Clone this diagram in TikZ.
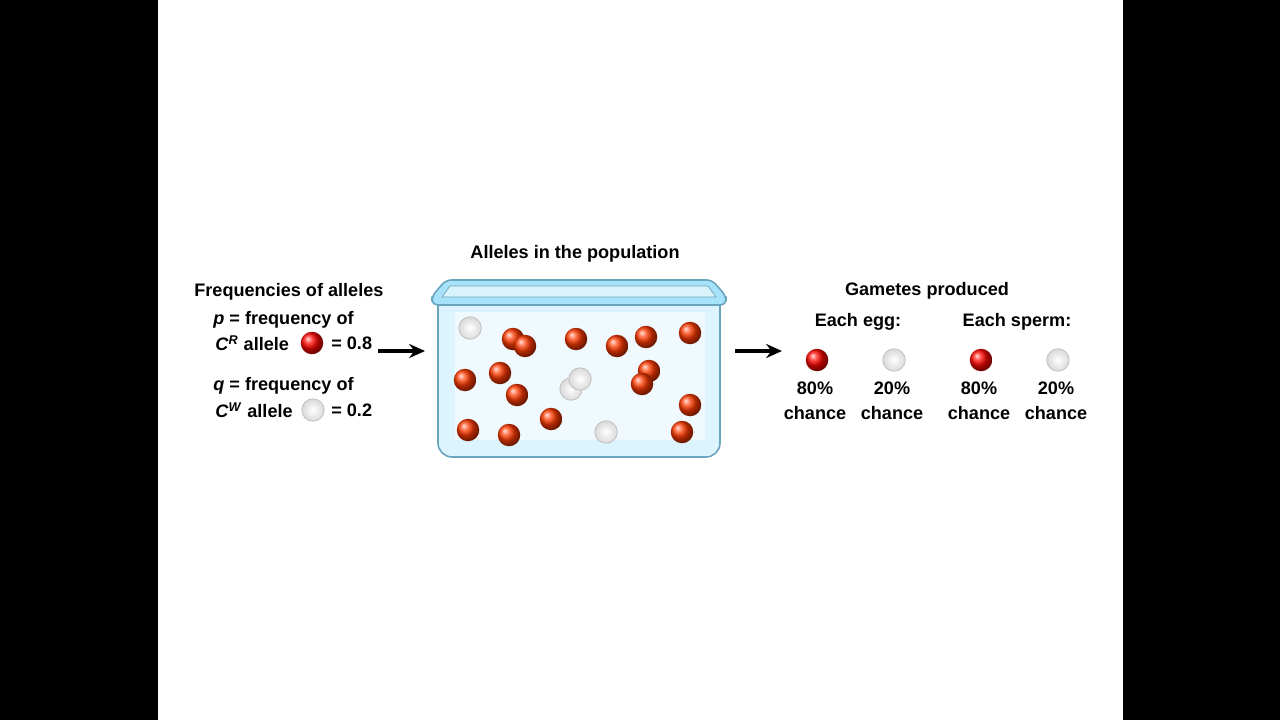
\documentclass[tikz,border=0pt]{standalone}
\usepackage{fontspec}
\setmainfont{Liberation Sans}
\usetikzlibrary{arrows, arrows.meta, positioning, calc}
\tikzset{
    lbl/.style = {inner sep=0pt, font=\bfseries\fontsize{10.3}{12}\selectfont},
    redal/.style = {circle, inner sep=0pt, minimum size=0.45cm, shading=ball, ball color=red!95!orange},
    whiteal/.style = {circle, inner sep=0pt, minimum size=0.45cm, draw=gray!50, line width=0.4pt,
        inner color=white, outer color=gray!30, shading=radial},
    tubred/.style = {redal, ball color=orange!45!red},
    arr/.style = {-{Stealth[length=9pt, width=8pt]}, line width=2pt},
}
\begin{document}
\begin{tikzpicture}[x=0.02cm, y=-0.02cm]
        \useasboundingbox (0,0) rectangle (1280,720);
        \fill[black] (0,0) rectangle (158,720);
        \fill[black] (1123,0) rectangle (1280,720);
        % left text
        \node [lbl, anchor=west] (freq) at (194,292) {Frequencies of alleles};
        \node [lbl, anchor=west] (pdef) at (213,320) {\textit{p} = frequency of};
        \node [lbl, anchor=west] (cr) at (215,343) {\textit{C}\textsuperscript{\textit{R}} allele};
        \node [redal] (rkey) at (312,343) {};
        \node [lbl, anchor=west] (pval) at (331,343) {= 0.8};
        \node [lbl, anchor=west] (qdef) at (213,386) {\textit{q} = frequency of};
        \node [lbl, anchor=west] (cw) at (215,410) {\textit{C}\textsuperscript{\textit{W}} allele};
        \node [whiteal] (wkey) at (313,410) {};
        \node [lbl, anchor=west] (qval) at (331,410) {= 0.2};
        % tub
        \node [lbl] (pop) at (575,254) {Alleles in the population};
        \draw [cyan!45!gray, fill=cyan!14!white, line width=0.9pt, rounded corners=8pt]
            (438,300) -- (438,457) -- (720,457) -- (720,300);
        \fill [cyan!6] (455,312) rectangle (705,440);
        \draw [cyan!45!gray, fill=cyan!35!white, line width=0.9pt, rounded corners=3pt]
            (432,296) -- (446,280) -- (712,280) -- (726,296) -- (726,305) -- (432,305) -- cycle;
        \draw [cyan!40!gray, fill=cyan!15] (450,286) -- (708,286) -- (716,297) -- (442,297) -- cycle;
        \foreach \x/\y [count=\i] in {513/339, 525/346, 576/339, 617/346, 646/337, 690/333,
            465/380, 500/373, 517/395, 649/371, 642/384, 690/405, 551/419, 468/430, 509/435, 682/432}
            \node [tubred] (r\i) at (\x,\y) {};
        \foreach \x/\y [count=\i] in {470/328, 571/389, 580/379, 606/432}
            \node [whiteal] (w\i) at (\x,\y) {};
        % arrows
        \coordinate (a1s) at (378,351);
        \coordinate (a1e) at (425,351);
        \coordinate (a2s) at (735,351);
        \coordinate (a2e) at (782,351);
        \draw [arr] (a1s) -- (a1e);
        \draw [arr] (a2s) -- (a2e);
        % gametes
        \node [lbl] (gam) at (927,291) {Gametes produced};
        \node [lbl] (egg) at (858,322) {Each egg:};
        \node [lbl] (sperm) at (1017,322) {Each sperm:};
        \foreach \x/\c/\p [count=\i] in {817/redal/80, 894/whiteal/20, 981/redal/80, 1058/whiteal/20} {
            \node [\c] (g\i) at (\x,360) {};
            \node [lbl, align=center] (gp\i) at (\x-2,401) {\p\%\\[2pt]chance};
        }
\end{tikzpicture}
\end{document}
